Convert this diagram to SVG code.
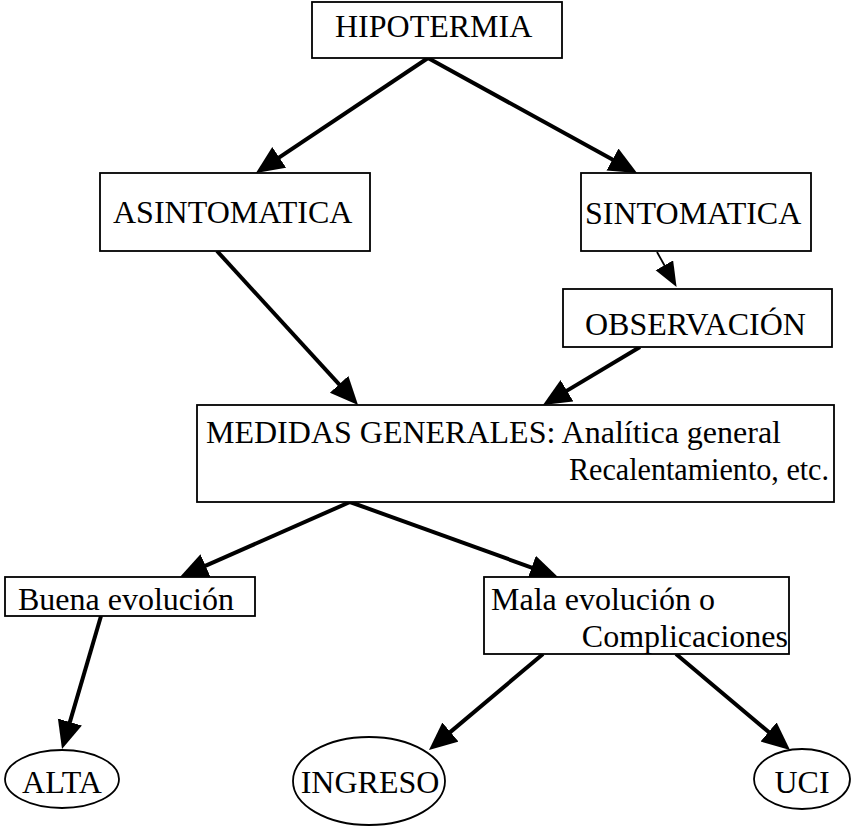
<svg xmlns="http://www.w3.org/2000/svg" width="851" height="827" viewBox="0 0 851 827">
<style>
  .box{fill:#fff;stroke:#000;stroke-width:1.8}
  .t{font-family:"Liberation Serif","Times New Roman",serif;font-size:32px;fill:#000}
  .c{fill:none;stroke:#000;stroke-width:4}
  .ct{fill:none;stroke:#000;stroke-width:1.8}
</style>
<defs>
  <marker id="ah" markerUnits="userSpaceOnUse" markerWidth="30" markerHeight="28" refX="17" refY="12.5" orient="auto">
    <path d="M0,0 L28,12.5 L0,25 z" fill="#000"/>
  </marker>
  <marker id="ahs" markerUnits="userSpaceOnUse" markerWidth="28" markerHeight="24" refX="14" refY="10" orient="auto">
    <path d="M0,0 L25,10 L0,20 z" fill="#000"/>
  </marker>
</defs>
<rect width="851" height="827" fill="#fff"/>
<g id="connectors">
  <line class="c" x1="428" y1="58" x2="265.1" y2="166.9" marker-end="url(#ah)"/>
  <line class="c" x1="428" y1="58" x2="627.4" y2="167.7" marker-end="url(#ah)"/>
  <line class="c" x1="217" y1="251" x2="350.6" y2="396.9" marker-end="url(#ah)"/>
  <line class="ct" x1="657" y1="252" x2="671.2" y2="277.5" marker-end="url(#ahs)"/>
  <line class="c" x1="640" y1="347" x2="552.4" y2="399.4" marker-end="url(#ah)"/>
  <line class="c" x1="350" y1="502" x2="190" y2="572.6" marker-end="url(#ah)"/>
  <line class="c" x1="350" y1="502" x2="547.6" y2="573.3" marker-end="url(#ah)"/>
  <line class="c" x1="101" y1="616" x2="65.1" y2="738.4" marker-end="url(#ah)"/>
  <line class="c" x1="543" y1="654" x2="437.4" y2="742.9" marker-end="url(#ah)"/>
  <line class="c" x1="676" y1="654" x2="781.6" y2="742.9" marker-end="url(#ah)"/>
</g>
<g id="hipotermia">
  <rect class="box" x="312" y="2" width="250" height="56"/>
  <text class="t" x="335" y="37">HIPOTERMIA</text>
</g>
<g id="asintomatica">
  <rect class="box" x="100" y="173" width="270" height="78"/>
  <text class="t" x="113" y="223">ASINTOMATICA</text>
</g>
<g id="sintomatica">
  <rect class="box" x="581" y="173" width="230" height="78"/>
  <text class="t" x="585" y="224">SINTOMATICA</text>
</g>
<g id="observacion">
  <rect class="box" x="563" y="289" width="269" height="58"/>
  <text class="t" x="585" y="335">OBSERVACIÓN</text>
</g>
<g id="medidas">
  <rect class="box" x="197" y="405" width="637" height="97"/>
  <text class="t" x="206" y="443">MEDIDAS GENERALES: Analítica general</text>
  <text class="t" x="829" y="480" text-anchor="end" textLength="260" lengthAdjust="spacingAndGlyphs">Recalentamiento, etc.</text>
</g>
<g id="buena">
  <rect class="box" x="5" y="577" width="250" height="39"/>
  <text class="t" x="18" y="610">Buena evolución</text>
</g>
<g id="mala">
  <rect class="box" x="484" y="577" width="305" height="77"/>
  <text class="t" x="491" y="610">Mala evolución o</text>
  <text class="t" x="788" y="647" text-anchor="end">Complicaciones</text>
</g>
<g id="alta">
  <ellipse class="box" cx="62" cy="779" rx="57" ry="29"/>
  <text class="t" x="62" y="793" text-anchor="middle">ALTA</text>
</g>
<g id="ingreso">
  <ellipse class="box" cx="369" cy="781" rx="76" ry="44"/>
  <text class="t" x="370" y="793" text-anchor="middle">INGRESO</text>
</g>
<g id="uci">
  <ellipse class="box" cx="802" cy="779" rx="48" ry="30"/>
  <text class="t" x="802" y="793" text-anchor="middle">UCI</text>
</g>
</svg>
